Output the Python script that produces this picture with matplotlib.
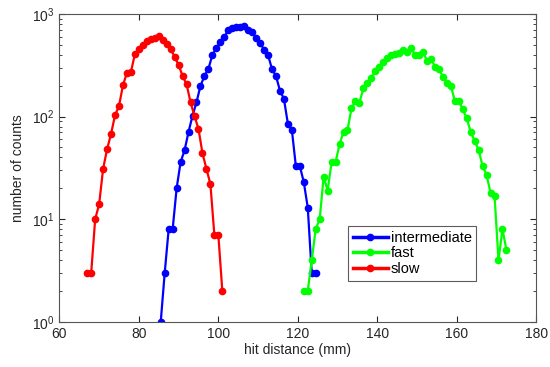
import numpy as np
import matplotlib
matplotlib.use('Agg')
import matplotlib.pyplot as plt

plt.rcParams['font.family'] = ['Liberation Sans', 'DejaVu Sans']
plt.rcParams['mathtext.fontset'] = 'custom'
plt.rcParams['mathtext.rm'] = 'Liberation Sans'
plt.rcParams['mathtext.it'] = 'Liberation Sans:italic'

# hit distance bins (mm) and counts
slow_x = list(range(67, 102))
slow_y = [3, 3, 10, 14, 31, 48, 68, 103, 127, 202, 268, 273, 406, 460, 500, 540,
          574, 589, 610, 556, 506, 457, 380, 319, 248, 207, 138, 101, 76, 44,
          31, 22, 7, 7, 2]

inter_x = [85.5 + i for i in range(40)]
inter_y = [1, 3, 8, 8, 20, 36, 47, 71, 102, 138, 199, 249, 292, 399, 464, 528,
           590, 705, 725, 745, 750, 765, 705, 664, 581, 526, 447, 399, 290, 249,
           179, 149, 85, 74, 33, 33, 23, 13, 3, 3]

fast_x = [121.5 + i for i in range(52)]
fast_y = [2, 2, 4, 8, 10, 26, 19, 36, 36, 54, 71, 74, 120, 143, 137, 188, 211,
          235, 281, 307, 341, 371, 402, 408, 415, 447, 427, 468, 397, 402, 427,
          351, 368, 307, 290, 245, 214, 199, 143, 143, 118, 96, 71, 58, 47, 33,
          27, 18, 17, 4, 8, 5]

fig = plt.figure(figsize=(5.5, 3.67), dpi=100)
ax = fig.add_axes([0.108, 0.123, 0.867, 0.839])

ax.semilogy(inter_x, inter_y, '-o', color=(0, 0, 1), lw=1.6, ms=4.5, label='intermediate')
ax.semilogy(fast_x, fast_y, '-o', color=(0, 1, 0), lw=1.6, ms=4.5, label='fast')
ax.semilogy(slow_x, slow_y, '-o', color=(1, 0, 0), lw=1.6, ms=4.5, label='slow')

ax.set_xlim(60, 180)
ax.set_ylim(1, 1000)
ax.set_xticks(range(60, 181, 20))
ax.set_xlabel('hit distance (mm)', fontsize=10, color='#262626', labelpad=2)
ax.set_ylabel('number of counts', fontsize=10, color='#262626', labelpad=5)

ax.tick_params(which='both', direction='in', top=True, right=True,
               labelsize=10, colors='#262626')
ax.tick_params(which='major', length=4)
ax.tick_params(which='minor', length=2)
for s in ax.spines.values():
    s.set_color('#555555')
    s.set_linewidth(0.8)

leg = ax.legend(loc='lower left', bbox_to_anchor=(0.606, 0.134), fontsize=10.5,
                numpoints=1, handlelength=2.4, handletextpad=0.2,
                borderpad=0.3, labelspacing=0.12, fancybox=False,
                borderaxespad=0)
leg.get_frame().set_edgecolor('#333333')
leg.get_frame().set_linewidth(0.8)
for line in leg.get_lines():
    line.set_linewidth(2.5)

fig.savefig('out.png', dpi=100)
